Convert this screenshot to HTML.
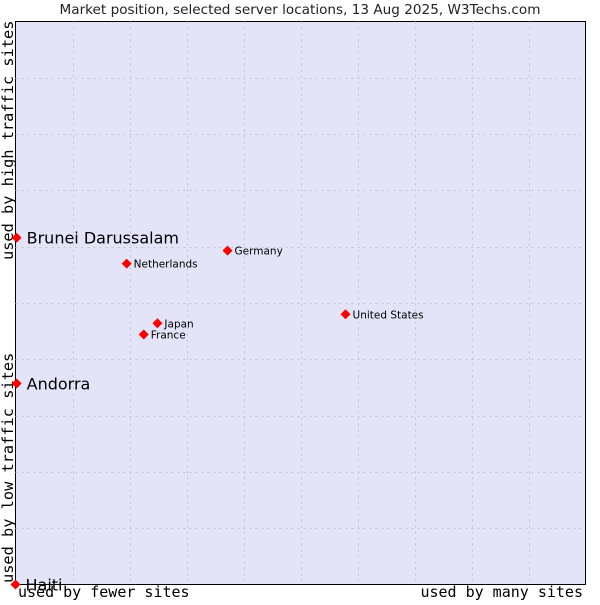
<!DOCTYPE html>
<html><head><meta charset="utf-8"><style>
body{margin:0;background:#fff;}
svg text{font-family:"DejaVu Sans","Liberation Sans",sans-serif;}
.mono{font-family:"DejaVu Sans Mono","Liberation Mono",monospace !important;}
</style></head><body>
<svg id="chart" width="600" height="600" viewBox="0 0 600 600">
<text x="300" y="14" text-anchor="middle" font-size="13.6" fill="#222">Market position, selected server locations, 13 Aug 2025, W3Techs.com</text>
<rect x="15.5" y="21.5" width="570" height="563" fill="#e3e4f8" stroke="#000"/>
<g id="grid"></g>
<text class="mono" x="18" y="597" font-size="15" fill="#000">used by fewer sites</text>
<text class="mono" x="583" y="597" font-size="15" text-anchor="end" fill="#000">used by many sites</text>
<text class="mono" transform="translate(13,583) rotate(-90)" font-size="15.3" fill="#000">used by low traffic sites</text>
<text class="mono" transform="translate(13,260) rotate(-90)" font-size="15.3" fill="#000">used by high traffic sites</text>
<g id="points"></g>
</svg>
<script>
const countries = ["Brunei Darussalam","Andorra","Haiti","Netherlands","Germany","Japan","France","United States"];
const xValues = [0.2, 0.2, 0, 19.5, 37.2, 24.9, 22.5, 57.9];
const yValues = [61.6, 35.7, 0, 57.0, 59.3, 46.4, 44.4, 48.0];
const bigLabel = [true, true, true, false, false, false, false, false];

const X0=15.5, X1=585.5, Y0=584.5, Y1=21.5;
const xs = v => X0 + (X1-X0)*v/100;
const ys = v => Y0 - (Y0-Y1)*v/100;
const NS="http://www.w3.org/2000/svg";
const grid=document.getElementById('grid');
for(let i=1;i<10;i++){
  const lv=document.createElementNS(NS,'line');
  lv.setAttribute('x1',Math.round(xs(i*10))+0.5);lv.setAttribute('x2',Math.round(xs(i*10))+0.5);
  lv.setAttribute('y1',Y1);lv.setAttribute('y2',Y0);
  lv.setAttribute('stroke','#c4c4c8');lv.setAttribute('stroke-dasharray','2,4');
  
  
  grid.appendChild(lv);
  const lh=document.createElementNS(NS,'line');
  lh.setAttribute('y1',Math.round(ys(i*10))+0.5);lh.setAttribute('y2',Math.round(ys(i*10))+0.5);
  lh.setAttribute('x1',X0);lh.setAttribute('x2',X1);
  lh.setAttribute('stroke','#c4c4c8');lh.setAttribute('stroke-dasharray','2,4');
  
  
  grid.appendChild(lh);
}
const pts=document.getElementById('points');
countries.forEach((c,i)=>{
  const x=xs(xValues[i]), y=ys(yValues[i]);
  const d=document.createElementNS(NS,'path');
  d.setAttribute('d',`M${x} ${y-5}L${x+5} ${y}L${x} ${y+5}L${x-5} ${y}Z`);
  d.setAttribute('fill','#f00');
  
  
  pts.appendChild(d);
  const t=document.createElementNS(NS,'text');
  t.setAttribute('x',x+(bigLabel[i]?10:7));
  t.setAttribute('y',y+(bigLabel[i]?6:4));
  t.setAttribute('font-size',bigLabel[i]?16:10.5);
  t.setAttribute('fill','#000');
  t.textContent=c;
  
  
  pts.appendChild(t);
});
</script>
</body></html>
